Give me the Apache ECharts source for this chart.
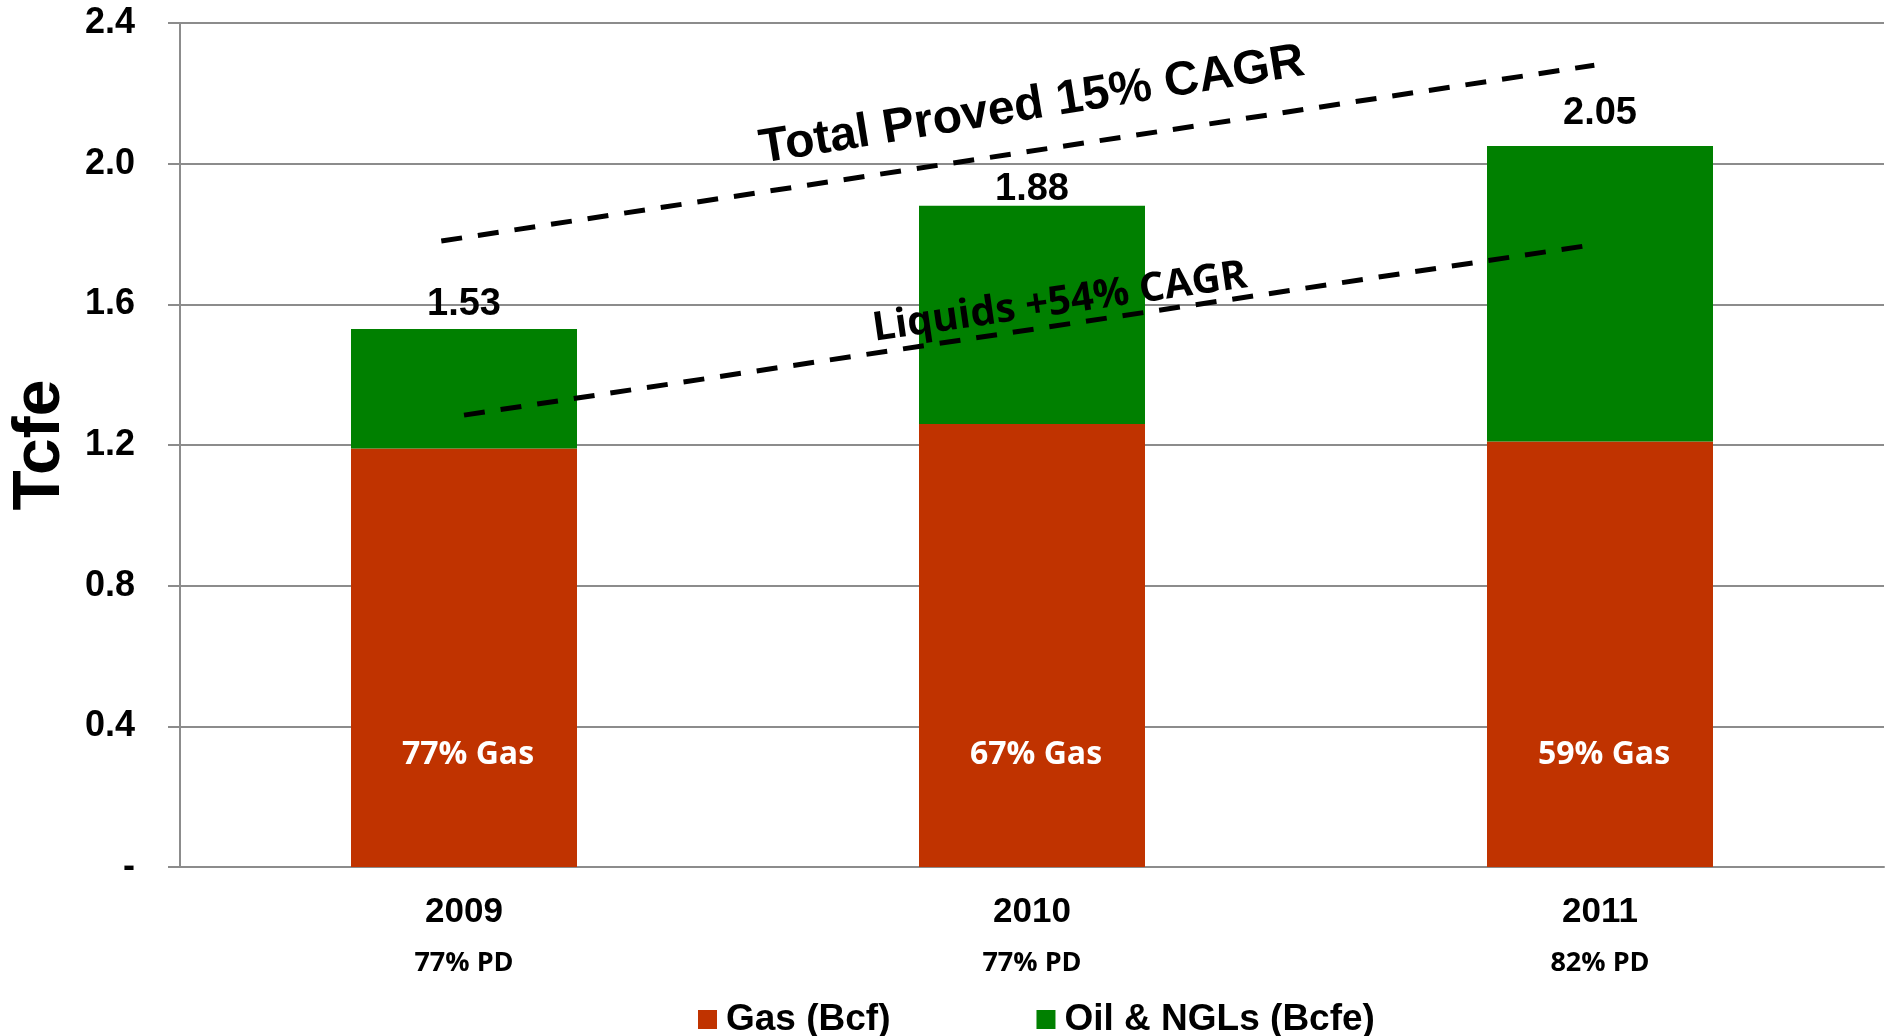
<!DOCTYPE html>
<html>
<head>
<meta charset="utf-8">
<title>Proved Reserves</title>
<script src="https://cdn.jsdelivr.net/npm/echarts@6/dist/echarts.min.js"></script>
<style>
  html, body { margin: 0; padding: 0; background: #fff; }
  #main { width: 1890px; height: 1036px; }
</style>
</head>
<body>
<div id="main"></div>
<script>
  const years = ['2009', '2010', '2011']
  const pdShare = ['77% PD', '77% PD', '82% PD']
  const gas = [1.19, 1.26, 1.21]
  const oilNgl = [0.34, 0.62, 0.84]
  const totals = [1.53, 1.88, 2.05]
  const gasShare = ['77% Gas', '67% Gas', '59% Gas']
  // trend lines, x in category index units
  const totalTrendX = [-0.04, 1.99]
  const totalTrendY = [1.78, 2.28]
  const liquidsTrendX = [0.0, 1.99]
  const liquidsTrendY = [1.285, 1.77]

  const ARIAL = 'Liberation Sans, Arial, sans-serif'
  const CALIBRI = 'Open Sans, Noto Sans, sans-serif'
  const GRID_COLOR = '#8c8c8c'

  let chart = echarts.init(document.getElementById('main'))

  // total label gaps above each bar (as placed in the original)
  const topLabelGap = [5, -3, 14]

  let option = {
    animation: false,
    grid: { left: 180, right: 6, top: 23, bottom: 169 },
    legend: {
      left: 693,
      top: 996,
      itemWidth: 19,
      itemHeight: 19,
      itemGap: 146,
      icon: 'rect',
      data: ['Gas (Bcf)', 'Oil & NGLs (Bcfe)'],
      textStyle: { fontFamily: ARIAL, fontWeight: 'bold', fontSize: 37, color: '#000', padding: [0, 0, 0, 4] }
    },
    xAxis: [
      {
        type: 'category',
        data: years,
        axisLine: { lineStyle: { color: GRID_COLOR, width: 2 } },
        axisTick: { length: 10, lineStyle: { color: GRID_COLOR, width: 2 } },
        axisLabel: {
          margin: 20,
          formatter: (v, i) => '{yr|' + v + '}\n{pd|' + pdShare[i] + '}',
          rich: {
            yr: { fontFamily: ARIAL, fontWeight: 'bold', fontSize: 35, color: '#000', lineHeight: 51 },
            pd: { fontFamily: CALIBRI, fontWeight: 'bold', fontSize: 27, color: '#000', lineHeight: 51 }
          }
        }
      },
      { type: 'value', min: -0.5, max: 2.5, show: false }
    ],
    yAxis: {
      type: 'value',
      min: 0,
      max: 2.4,
      interval: 0.4,
      name: 'Tcfe',
      nameLocation: 'middle',
      nameGap: 99,
      nameTextStyle: { fontFamily: ARIAL, fontWeight: 'bold', fontSize: 66, color: '#000' },
      axisLine: { show: true, onZero: false, lineStyle: { color: GRID_COLOR, width: 2 } },
      axisTick: { show: true, length: 12, lineStyle: { color: GRID_COLOR, width: 2 } },
      splitLine: { lineStyle: { color: GRID_COLOR, width: 2 } },
      axisLabel: {
        margin: 45,
        fontFamily: ARIAL,
        fontWeight: 'bold',
        fontSize: 36,
        color: '#000',
        formatter: v => (v === 0 ? '-' : v.toFixed(1))
      }
    },
    series: [
      {
        name: 'Gas (Bcf)',
        type: 'bar',
        stack: 'total',
        barWidth: 226,
        itemStyle: { color: '#C03300' },
        label: {
          show: true,
          position: 'insideBottom',
          distance: 96,
          offset: [4, 0],
          fontFamily: CALIBRI,
          fontWeight: 'bold',
          fontSize: 32,
          color: '#fff',
          formatter: p => gasShare[p.dataIndex]
        },
        data: gas
      },
      {
        name: 'Oil & NGLs (Bcfe)',
        type: 'bar',
        stack: 'total',
        barWidth: 226,
        itemStyle: { color: '#008000' },
        label: {
          show: true,
          position: 'top',
          fontFamily: ARIAL,
          fontWeight: 'bold',
          fontSize: 38,
          color: '#000',
          formatter: p => totals[p.dataIndex].toFixed(2)
        },
        data: oilNgl.map((v, i) => ({ value: v, label: { distance: topLabelGap[i] } }))
      },
      {
        name: 'Total trend',
        type: 'line',
        xAxisIndex: 1,
        symbol: 'none',
        silent: true,
        z: 5,
        lineStyle: { color: '#000', width: 5, type: [21, 16] },
        data: totalTrendX.map((x, i) => [x, totalTrendY[i]])
      },
      {
        name: 'Liquids trend',
        type: 'line',
        xAxisIndex: 1,
        symbol: 'none',
        silent: true,
        z: 5,
        lineStyle: { color: '#000', width: 5, type: [21, 16] },
        data: liquidsTrendX.map((x, i) => [x, liquidsTrendY[i]])
      }
    ]
  }
  option && chart.setOption(option)

  // rotated trend captions, anchored in data space
  const captions = [
    { text: 'Total Proved 15% CAGR', at: [1.0, 2.165], font: 'bold 48px ' + ARIAL, rot: 9.2 },
    { text: 'Liquids +54% CAGR', at: [1.049, 1.605], font: 'bold 40px ' + CALIBRI, rot: 8.2 }
  ]
  chart.setOption({
    graphic: captions.map(c => {
      const p = chart.convertToPixel({ xAxisIndex: 1, yAxisIndex: 0 }, c.at)
      return {
        type: 'text',
        x: p[0],
        y: p[1],
        rotation: (c.rot * Math.PI) / 180,
        z: 10,
        style: { text: c.text, font: c.font, fill: '#000', align: 'center', verticalAlign: 'middle' }
      }
    })
  })

  window.onresize = () => chart.resize()
</script>
</body>
</html>
